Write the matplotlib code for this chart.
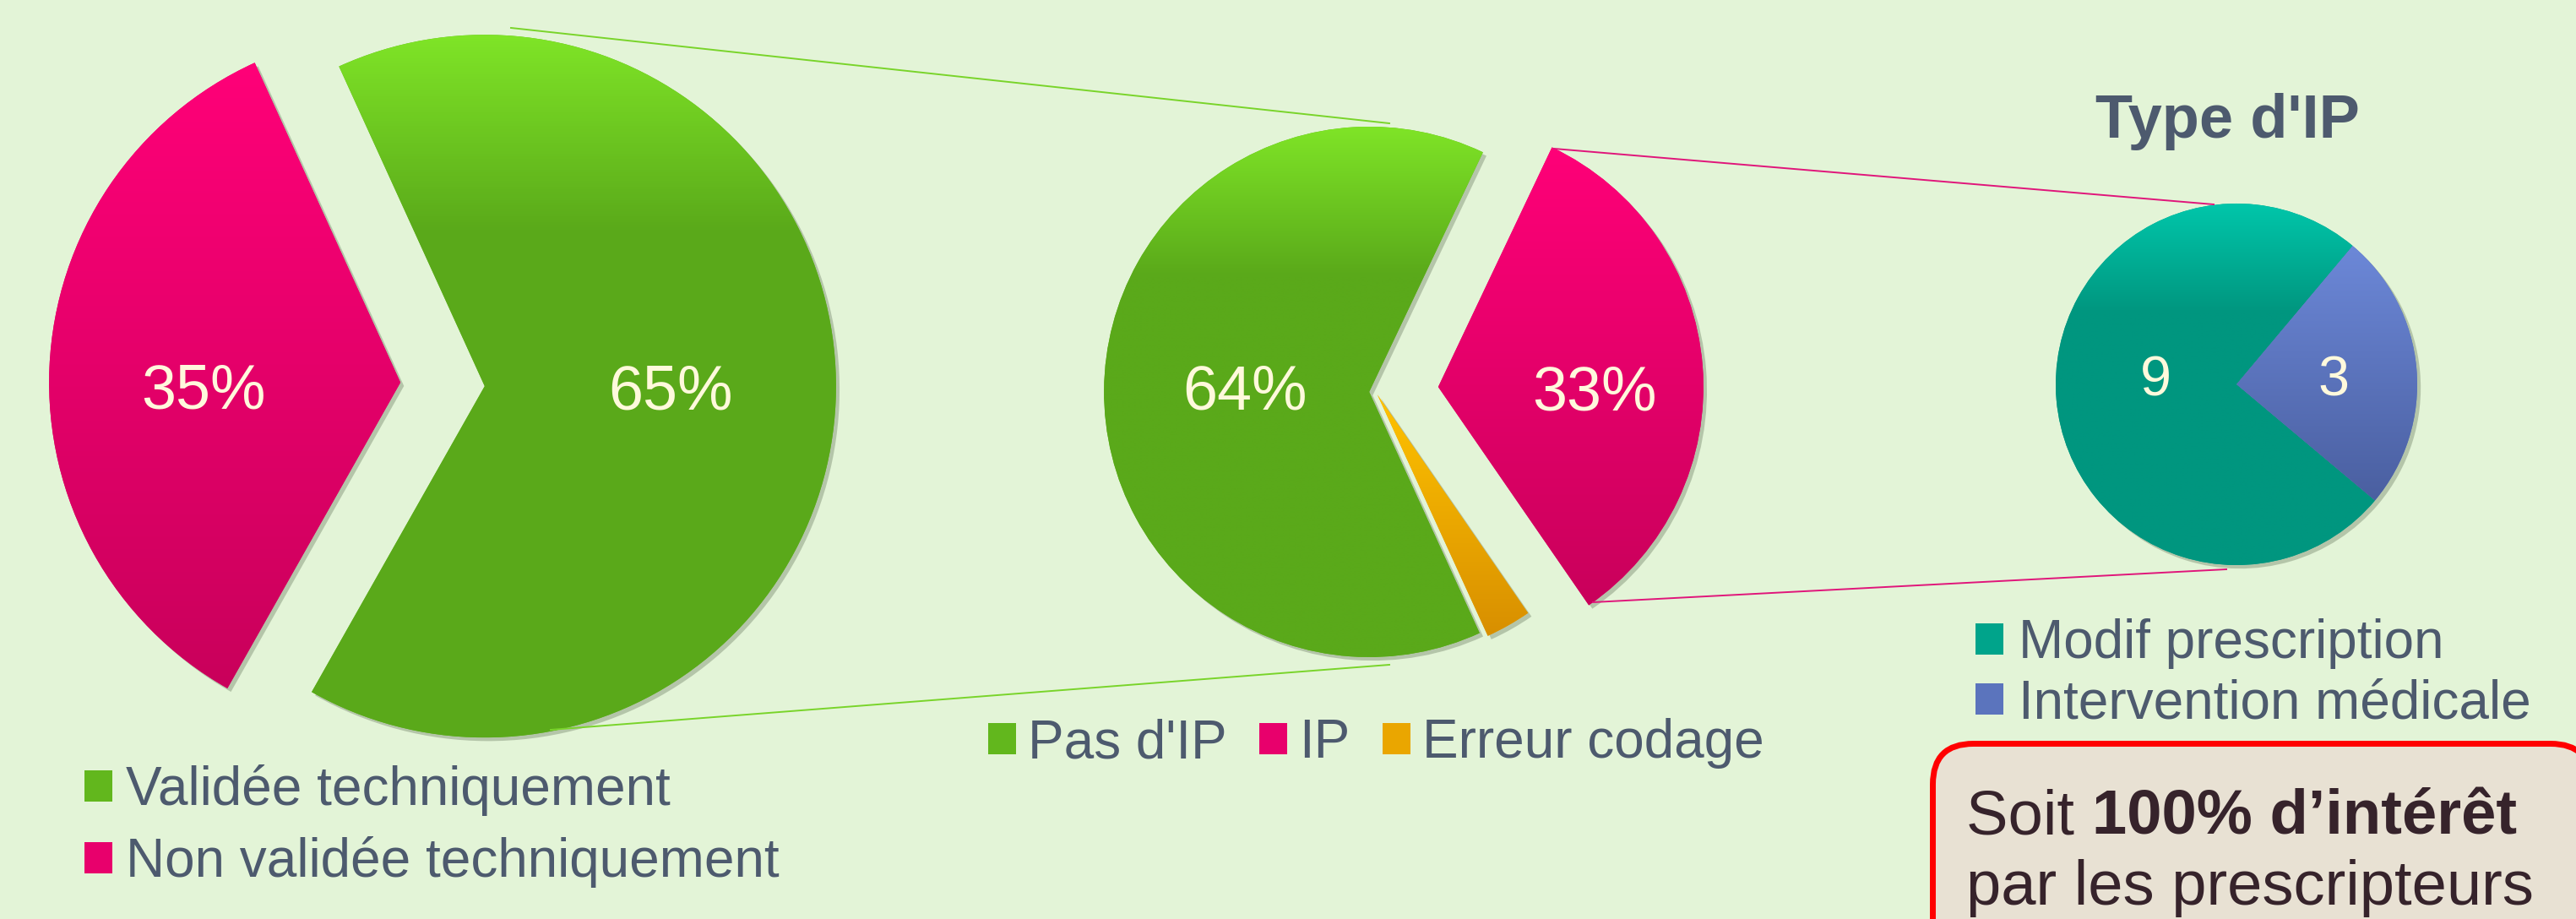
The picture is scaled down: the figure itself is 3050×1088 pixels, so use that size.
import numpy as np
import matplotlib
matplotlib.use('Agg')
import matplotlib.pyplot as plt
from matplotlib.patches import Patch, FancyBboxPatch
from matplotlib.colors import LinearSegmentedColormap
from matplotlib.lines import Line2D
from matplotlib.transforms import IdentityTransform
import matplotlib.patheffects as pe

# ---------------- data ----------------
p1_labels = ['Validée techniquement', 'Non validée techniquement']
p1_values = [65, 35]
p2_labels = ["Pas d'IP", 'IP', 'Erreur codage']
p2_values = [23, 12, 1]
p3_title = "Type d'IP"
p3_labels = ['Modif prescription', 'Intervention médicale']
p3_values = [9, 3]
box_regular = 'Soit '
box_bold = '100% d\u2019intérêt'
box_line2 = 'par les prescripteurs'

# ---------------- style ----------------
W, H, DPI = 3050, 1088, 100
BG = '#e3f4d7'
TXT = '#4d5a6e'
LBL = '#fff9dc'
FONT = 'Liberation Sans'
plt.rcParams['font.family'] = [FONT, 'DejaVu Sans']

GRAD = {
    'green': [(0, '#7fe427'), (0.28, '#5aa91a'), (1, '#5aa91a')],
    'pink': [(0, '#ff0078'), (1, '#c9005b')],
    'orange': [(0, '#ffc300'), (1, '#d88f00')],
    'teal': [(0, '#00c6aa'), (0.3, '#00967f'), (1, '#00967f')],
    'blue': [(0, '#6c88d8'), (1, '#4a5fa0')],
}
MID = {'green': '#62b71d', 'pink': '#e8006c', 'orange': '#eaa600',
       'teal': '#00a48b', 'blue': '#5b74bd'}

fig = plt.figure(figsize=(W / DPI, H / DPI), dpi=DPI, facecolor=BG)


def fx(x):
    return x / W


def fy(y):
    return 1 - y / H


def pie_axes(cx, cy, r, pad=1.4):
    ax = fig.add_axes([fx(cx - pad * r), fy(cy + pad * r), 2 * pad * r / W, 2 * pad * r / H])
    ax.set_facecolor('none')
    return ax, pad


def fill_gradient(ax, wedge, key):
    cmap = LinearSegmentedColormap.from_list(key, GRAD[key])
    bb = wedge.get_path().get_extents()
    arr = np.linspace(0, 1, 256).reshape(-1, 1)
    im = ax.imshow(arr, cmap=cmap, extent=(bb.x0, bb.x1, bb.y0, bb.y1),
                   aspect='auto', interpolation='bilinear',
                   zorder=wedge.get_zorder() + 0.01)
    im.set_clip_path(wedge)
    wedge.set_path_effects([pe.SimplePatchShadow(offset=(3, -3), shadow_rgbFace='#4a5a40', alpha=0.3),
                            pe.Normal()])


def draw_pie(cx, cy, r, values, keys, startangle, explode, dists, dys, fmt, fs):
    ax, pad = pie_axes(cx, cy, r)
    wedges, _ = ax.pie(values, colors=[MID[k] for k in keys], startangle=startangle,
                       counterclock=False, explode=explode,
                       wedgeprops=dict(linewidth=0))
    total = sum(values)
    for w, k, v, d, dy in zip(wedges, keys, values, dists, dys):
        fill_gradient(ax, w, k)
        if d is None:
            continue
        th = np.deg2rad((w.theta1 + w.theta2) / 2)
        x = w.center[0] + d * np.cos(th)
        y = w.center[1] + dy
        ax.text(x, y, fmt(v, total), ha='center', va='center_baseline', fontsize=fs,
                color=LBL, zorder=5)
    ax.set_xlim(-pad, pad)
    ax.set_ylim(-pad, pad)
    ax.set_aspect('auto')
    ax.axis('off')
    return ax


pct = lambda v, t: f'{100 * v / t:.0f}%'
cnt = lambda v, t: f'{v}'

# Pie 1
draw_pie(524, 455, 416, p1_values, ['green', 'pink'], 114.5, [0.12, 0.12],
         [0.53, 0.56], [0.0, -0.008], pct, 53)
# Pie 2
draw_pie(1629, 464, 314, p2_values, ['green', 'pink', 'orange'], 294.6,
         [0.025, 0.236, 0.012], [0.47, 0.59, None], [0.022, 0.0, 0.0], pct, 53)
# Pie 3
draw_pie(2648, 455, 214, p3_values, ['teal', 'blue'], -40, [0, 0],
         [0.45, 0.54], [0.047, 0.047], cnt, 48)

# connector lines
def conn(p, q, color):
    fig.add_artist(Line2D([fx(p[0]), fx(q[0])], [fy(p[1]), fy(q[1])],
                          transform=fig.transFigure, color=color, lw=1.4, zorder=1))

conn((605, 33), (1645, 146), '#79d42a')
conn((652, 864), (1645, 787), '#79d42a')
conn((1840, 176), (2621, 242), '#e0157a')
conn((1886, 713), (2636, 674), '#e0157a')

# legends
FS = 46
def legend(labels, keys, x, ytop, ncol=1, spacing=0.25, colspace=0.6, textpad=0.25):
    handles = [Patch(facecolor=MID[k], edgecolor='none') for k in keys]
    fig.legend(handles, labels, loc='upper left', bbox_to_anchor=(fx(x), fy(ytop)),
               frameon=False, fontsize=FS, ncol=ncol, borderpad=0, borderaxespad=0,
               handlelength=0.52, handleheight=0.52, handletextpad=textpad,
               labelspacing=spacing, columnspacing=colspace, labelcolor=TXT)

legend(p1_labels, ['green', 'pink'], 100, 905, spacing=0.375)
legend(p2_labels, ['green', 'pink', 'orange'], 1170, 850, ncol=3, colspace=0.6, textpad=0.22)
legend(p3_labels, ['teal', 'blue'], 2339, 732, spacing=0.18, textpad=0.28)

# title of pie 3
fig.text(fx(2637), fy(163), p3_title, ha='center', va='baseline', fontsize=52,
         fontweight='bold', color=TXT)

# red rounded box (pixel coordinates, origin bottom-left)
bx0, bx1, by_top, by_bot = 2288.5, 3068, 880.5, 1200
box = FancyBboxPatch((bx0, H - by_bot), bx1 - bx0, by_bot - by_top,
                     boxstyle='round,pad=0,rounding_size=48', transform=IdentityTransform(),
                     facecolor='#e8e1d3', edgecolor='#ff0000', linewidth=5.0, zorder=3)
fig.add_artist(box)
t1 = fig.text(fx(2328), fy(988), box_regular, fontsize=53.5, color='#36232b',
              va='baseline', ha='left', zorder=4)
fig.canvas.draw()
bb = t1.get_window_extent()
fig.text(bb.x1 / W, fy(988), box_bold, fontsize=53.5, fontweight='bold', color='#36232b',
         va='baseline', ha='left', zorder=4)
fig.text(fx(2328), fy(1071), box_line2, fontsize=53.5, color='#36232b',
         va='baseline', ha='left', zorder=4)

fig.savefig('out.png', dpi=DPI, facecolor=BG)
